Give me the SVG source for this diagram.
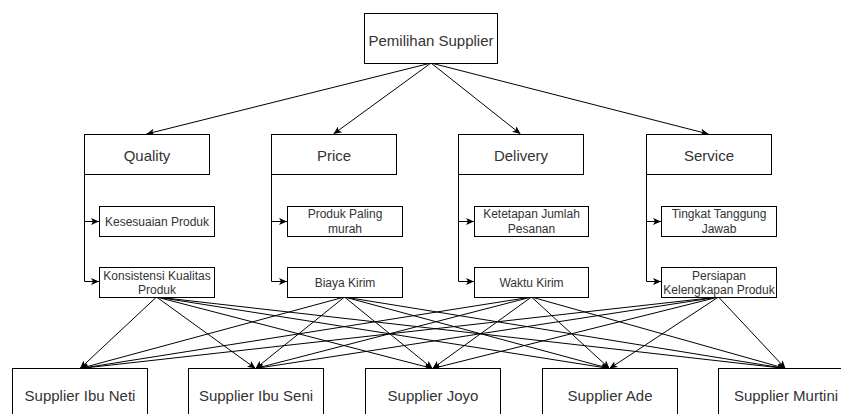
<svg xmlns="http://www.w3.org/2000/svg" width="841" height="414" viewBox="0 0 841 414">
<style>
rect{fill:#fff;stroke:#000;stroke-width:1}
text{font-family:"Liberation Sans",Arial,sans-serif;fill:#333;text-anchor:middle}
.l{font-size:15px}
.s{font-size:12px}
#edges path,#edges line{stroke:#000;stroke-width:1;fill:none;marker-end:url(#a)}
</style>
<defs>
<marker id="a" markerWidth="10" markerHeight="10" refX="8" refY="4" orient="auto" markerUnits="userSpaceOnUse">
<path d="M0,0.5 L8,4 L0,7.5 L2,4 z" fill="#000" stroke="none"/>
</marker>
</defs>
<rect x="0" y="0" width="841" height="414" style="stroke:none;fill:#fff"/>
<g id="edges">
<line x1="431" y1="63" x2="146.5" y2="134"/>
<line x1="431" y1="63" x2="333.5" y2="134"/>
<line x1="431" y1="63" x2="520.5" y2="134"/>
<line x1="431" y1="63" x2="708.5" y2="134"/>
<path d="M84.5,174 V221.5 H99"/>
<path d="M84.5,174 V281.5 H99"/>
<path d="M271.5,174 V221.5 H287"/>
<path d="M271.5,174 V281.5 H287"/>
<path d="M458.5,174 V221.5 H474"/>
<path d="M458.5,174 V281.5 H474"/>
<path d="M646.5,174 V221.5 H661"/>
<path d="M646.5,174 V281.5 H661"/>
<line x1="156.5" y1="297" x2="80" y2="368.5"/>
<line x1="156.5" y1="297" x2="255.5" y2="368.5"/>
<line x1="156.5" y1="297" x2="432.5" y2="368.5"/>
<line x1="156.5" y1="297" x2="609.5" y2="368.5"/>
<line x1="156.5" y1="297" x2="785.5" y2="368.5"/>
<line x1="344.5" y1="297" x2="80" y2="368.5"/>
<line x1="344.5" y1="297" x2="255.5" y2="368.5"/>
<line x1="344.5" y1="297" x2="432.5" y2="368.5"/>
<line x1="344.5" y1="297" x2="609.5" y2="368.5"/>
<line x1="344.5" y1="297" x2="785.5" y2="368.5"/>
<line x1="531.5" y1="297" x2="80" y2="368.5"/>
<line x1="531.5" y1="297" x2="255.5" y2="368.5"/>
<line x1="531.5" y1="297" x2="432.5" y2="368.5"/>
<line x1="531.5" y1="297" x2="609.5" y2="368.5"/>
<line x1="531.5" y1="297" x2="785.5" y2="368.5"/>
<line x1="718.5" y1="297" x2="80" y2="368.5"/>
<line x1="718.5" y1="297" x2="255.5" y2="368.5"/>
<line x1="718.5" y1="297" x2="432.5" y2="368.5"/>
<line x1="718.5" y1="297" x2="609.5" y2="368.5"/>
<line x1="718.5" y1="297" x2="785.5" y2="368.5"/>
</g>
<g id="root"><rect x="364.5" y="13.5" width="133" height="50"/><text class="l" x="431" y="45.5">Pemilihan Supplier</text></g>
<g id="quality"><rect x="84.5" y="134.5" width="125" height="40"/><text class="l" x="147" y="161">Quality</text></g>
<g id="price"><rect x="271.5" y="134.5" width="125" height="40"/><text class="l" x="334" y="161">Price</text></g>
<g id="delivery"><rect x="458.5" y="134.5" width="125" height="40"/><text class="l" x="521" y="161">Delivery</text></g>
<g id="service"><rect x="646.5" y="134.5" width="125" height="40"/><text class="l" x="709" y="161">Service</text></g>
<g id="kesesuaian"><rect x="99.5" y="206.5" width="115" height="30"/><text class="s" x="157" y="225.5">Kesesuaian Produk</text></g>
<g id="konsistensi"><rect x="99.5" y="267.5" width="115" height="30"/><text class="s" x="157" y="279.5">Konsistensi Kualitas</text><text class="s" x="157" y="294">Produk</text></g>
<g id="murah"><rect x="287.5" y="206.5" width="115" height="30"/><text class="s" x="345" y="218">Produk Paling</text><text class="s" x="345" y="232.5">murah</text></g>
<g id="biaya"><rect x="287.5" y="267.5" width="115" height="30"/><text class="s" x="345" y="286.5">Biaya Kirim</text></g>
<g id="ketetapan"><rect x="474.5" y="206.5" width="114" height="30"/><text class="s" x="531.5" y="218">Ketetapan Jumlah</text><text class="s" x="531.5" y="232.5">Pesanan</text></g>
<g id="waktu"><rect x="474.5" y="267.5" width="114" height="30"/><text class="s" x="531.5" y="286.5">Waktu Kirim</text></g>
<g id="tingkat"><rect x="661.5" y="206.5" width="115" height="30"/><text class="s" x="719" y="218">Tingkat Tanggung</text><text class="s" x="719" y="232.5">Jawab</text></g>
<g id="persiapan"><rect x="661.5" y="267.5" width="115" height="30"/><text class="s" x="719" y="279.5">Persiapan</text><text class="s" x="719" y="294">Kelengkapan Produk</text></g>
<g id="neti"><rect x="12.5" y="368.5" width="135" height="60"/><text class="l" x="80" y="400.5">Supplier Ibu Neti</text></g>
<g id="seni"><rect x="188.5" y="368.5" width="135" height="60"/><text class="l" x="256" y="400.5">Supplier Ibu Seni</text></g>
<g id="joyo"><rect x="365.5" y="368.5" width="135" height="60"/><text class="l" x="433" y="400.5">Supplier Joyo</text></g>
<g id="ade"><rect x="542.5" y="368.5" width="135" height="60"/><text class="l" x="610" y="400.5">Supplier Ade</text></g>
<g id="murtini"><rect x="718.5" y="368.5" width="135" height="60"/><text class="l" x="786" y="400.5">Supplier Murtini</text></g>
</svg>
